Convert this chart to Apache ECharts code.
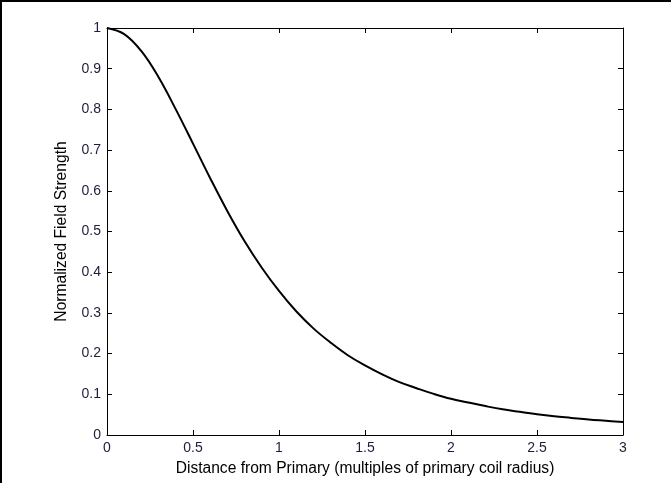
<!DOCTYPE html>
<html><head><meta charset="utf-8">
<script src="https://cdn.jsdelivr.net/npm/echarts@6/dist/echarts.min.js"></script>
<style>html,body{margin:0;padding:0;background:#fff}#c{width:671px;height:483px}</style>
</head><body><div id="c"></div>
<script>
const distance = [0,0.1,0.2,0.3,0.4,0.5,0.6,0.7,0.8,0.9,1.0,1.1,1.2,1.3,1.4,1.5,1.6,1.7,1.8,1.9,2.0,2.1,2.2,2.3,2.4,2.5,2.6,2.7,2.8,2.9,3.0];
const strength = [1.0,0.985,0.943,0.879,0.800,0.716,0.631,0.550,0.476,0.411,0.354,0.304,0.262,0.227,0.196,0.171,0.149,0.130,0.115,0.101,0.089,0.080,0.071,0.063,0.057,0.051,0.046,0.042,0.038,0.035,0.032];
const xTicks = [0,0.5,1,1.5,2,2.5,3];
const yTicks = [0,0.1,0.2,0.3,0.4,0.5,0.6,0.7,0.8,0.9,1];
const xTitle = 'Distance from Primary (multiples of primary coil radius)';
const yTitle = 'Normalized Field Strength';

const chart = echarts.init(document.getElementById('c'), null, {renderer:'canvas'});
const FF = 'Liberation Sans, Arial, sans-serif';
const labelStyle = {color:'#1e1e3c', fontFamily:FF, fontSize:14};
const lineStyle = {color:'#000', width:1};
const tick = {show:true, inside:true, length:5, lineStyle:{color:'#000', width:1}};
function fmt(v){ return String(v); }
chart.setOption({
  animation:false,
  backgroundColor:'#fff',
  grid:{left:107, top:28, width:516, height:407, containLabel:false},
  xAxis:[
    {type:'value', min:0, max:3, interval:0.5, position:'bottom',
     axisLine:{show:true, onZero:false, lineStyle}, axisTick:tick, splitLine:{show:false},
     axisLabel:Object.assign({margin:6, formatter:fmt}, labelStyle),
     name:xTitle, nameLocation:'middle', nameGap:26,
     nameTextStyle:{color:'#000', fontFamily:FF, fontSize:15.6}},
    {type:'value', min:0, max:3, interval:0.5, position:'top',
     axisLine:{show:true, onZero:false, lineStyle}, axisTick:tick, splitLine:{show:false},
     axisLabel:{show:false}}
  ],
  yAxis:[
    {type:'value', min:0, max:1, interval:0.1, position:'left',
     axisLine:{show:true, onZero:false, lineStyle}, axisTick:tick, splitLine:{show:false},
     axisLabel:Object.assign({margin:6, formatter:fmt}, labelStyle),
     name:yTitle, nameLocation:'middle', nameGap:37, nameRotate:90,
     nameTextStyle:{color:'#000', fontFamily:FF, fontSize:15.6}},
    {type:'value', min:0, max:1, interval:0.1, position:'right',
     axisLine:{show:true, onZero:false, lineStyle}, axisTick:tick, splitLine:{show:false},
     axisLabel:{show:false}}
  ],
  series:[{
    type:'line', xAxisIndex:0, yAxisIndex:0,
    data:distance.map((d,i)=>[d,strength[i]]),
    showSymbol:false, smooth:0.4,
    lineStyle:{color:'#000', width:2}
  }],
  graphic:[
    {type:'rect', shape:{x:0,y:0,width:671,height:2}, style:{fill:'#000'}, silent:true},
    {type:'rect', shape:{x:0,y:0,width:2,height:483}, style:{fill:'#000'}, silent:true}
  ]
});
</script></body></html>
